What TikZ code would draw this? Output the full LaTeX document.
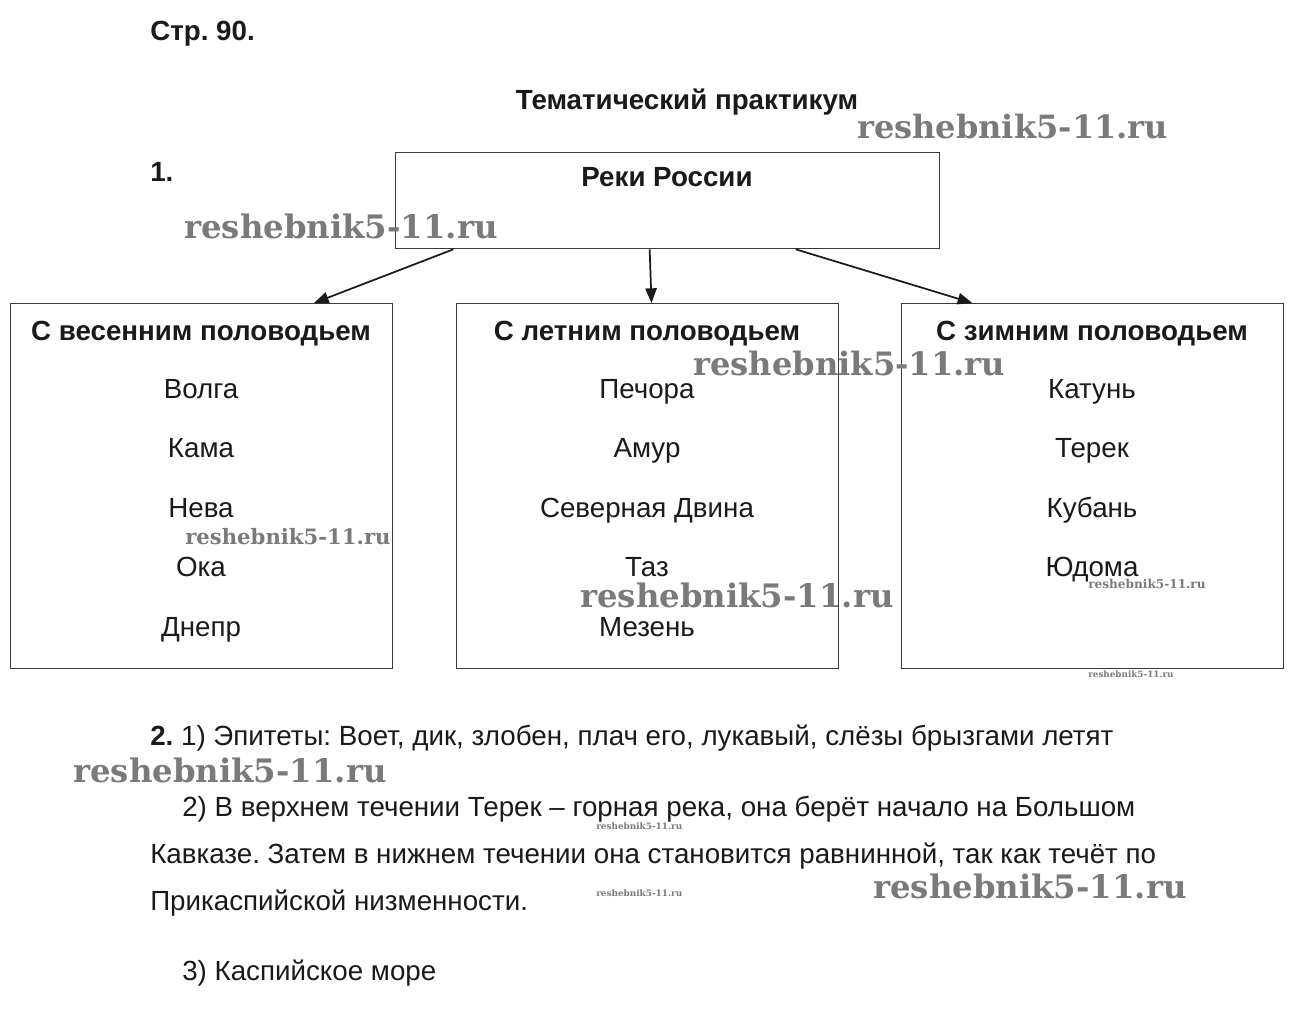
\documentclass[tikz,border=0pt]{standalone}
\usepackage{fontspec}
\setmainfont{Liberation Sans}
\newfontfamily\wmfont{DejaVu Serif}
\usetikzlibrary{arrows.meta,calc}
\definecolor{ink}{HTML}{1A1A1A}
\definecolor{frame}{HTML}{3A3A3A}
\definecolor{stamp}{HTML}{7A7A7A}
\tikzset{
  txt/.style={font=\fontsize{20.8pt}{25pt}\selectfont,text=ink,inner sep=0pt},
  btxt/.style={txt,font=\fontsize{20.8pt}{25pt}\selectfont\bfseries},
  item/.style={txt,anchor=base},
  head/.style={btxt,anchor=base},
  line/.style={txt,anchor=base west},
  rbox/.style={draw=frame,line width=1pt,anchor=north west,inner sep=0pt,minimum width=286.5pt,minimum height=273.75pt},
  arrow/.style={-{Triangle[length=11pt,width=8.5pt]},line width=1.3pt,color=ink},
  wm/.style={inner sep=0pt,anchor=west,text=stamp,font=\wmfont\bfseries},
}
\newcommand{\wmark}[1]{\resizebox{#1}{!}{reshebnik5-11.ru}}
\frenchspacing

\begin{document}
\begin{tikzpicture}[x=0.75pt,y=-0.75pt]
    \fill[white] (0,0) rectangle (1292,1033);
    \useasboundingbox (0,0) rectangle (1292,1033);
    % heading
    \node[btxt,anchor=base west] (page) at (150,40) {Стр. 90.};
    \node[btxt,anchor=base] (title) at (687,109) {Тематический практикум};
    \node[btxt,anchor=base west] (task1) at (150,181) {1.};
    % boxes
    \node[rbox,minimum width=408pt,minimum height=72pt] (rivers) at (395,152) {};
    \node[head] (riverstitle) at (667,186) {Реки России};
    \node[rbox] (spring) at (10,303) {};
    \node[rbox] (summer) at (456,303) {};
    \node[rbox] (winter) at (901,303) {};
    \draw[arrow] ($(rivers.south west)!0.107!(rivers.south east)$) -- ($(spring.north west)!0.793!(spring.north east)$);
    \draw[arrow] ($(rivers.south west)!0.467!(rivers.south east)$) -- ($(summer.north west)!0.510!(summer.north east)$);
    \draw[arrow] ($(rivers.south west)!0.735!(rivers.south east)$) -- ($(winter.north west)!0.186!(winter.north east)$);
    % spring column
    \node[head] (springhead) at (201,340) {С весенним половодьем};
    \node[item] (volga) at (201,398) {Волга};
    \node[item] (kama) at (201,457) {Кама};
    \node[item] (neva) at (201,517) {Нева};
    \node[item] (oka) at (201,576) {Ока};
    \node[item] (dnepr) at (201,636) {Днепр};
    % summer column
    \node[head] (summerhead) at (647,340) {С летним половодьем};
    \node[item] (pechora) at (647,398) {Печора};
    \node[item] (amur) at (647,457) {Амур};
    \node[item] (dvina) at (647,517) {Северная Двина};
    \node[item] (taz) at (647,576) {Таз};
    \node[item] (mezen) at (647,636) {Мезень};
    % winter column
    \node[head] (winterhead) at (1092,340) {С зимним половодьем};
    \node[item] (katun) at (1092,398) {Катунь};
    \node[item] (terek) at (1092,457) {Терек};
    \node[item] (kuban) at (1092,517) {Кубань};
    \node[item] (yudoma) at (1092,576) {Юдома};
    % task 2
    \node[line] (epith) at (150,745) {\textbf{2.} 1) Эпитеты: Воет, дик, злобен, плач его, лукавый, слёзы брызгами летят};
    \node[line] (flowa) at (182,816) {2) В верхнем течении Терек – горная река, она берёт начало на Большом};
    \node[line] (flowb) at (150,863) {Кавказе. Затем в нижнем течении она становится равнинной, так как течёт по};
    \node[line] (flowc) at (150,910) {Прикаспийской низменности.};
    \node[line] (sea) at (182,980) {3) Каспийское море};
    % stamps
    \node[wm] (wma) at (857,127) {\wmark{233pt}};
    \node[wm] (wmb) at (184,226) {\wmark{235pt}};
    \node[wm] (wmc) at (693,363) {\wmark{234pt}};
    \node[wm] (wmd) at (185,537) {\wmark{154pt}};
    \node[wm] (wme) at (1088,584) {\wmark{88pt}};
    \node[wm] (wmf) at (580,595) {\wmark{235pt}};
    \node[wm] (wmg) at (1088,674) {\wmark{64pt}};
    \node[wm] (wmh) at (73,770) {\wmark{235pt}};
    \node[wm] (wmi) at (596,826) {\wmark{64.5pt}};
    \node[wm] (wmj) at (596,893) {\wmark{64.5pt}};
    \node[wm] (wmk) at (873,886) {\wmark{235pt}};
  \end{tikzpicture}
\end{document}
